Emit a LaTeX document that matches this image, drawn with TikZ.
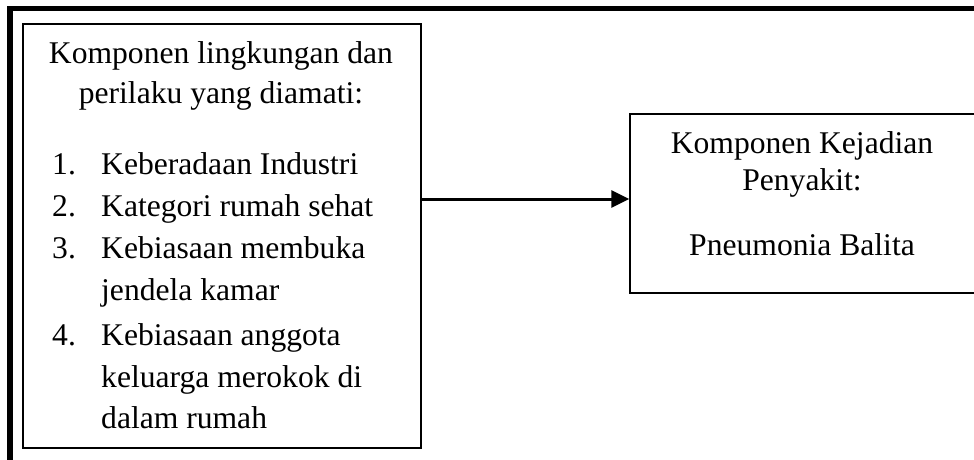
\documentclass[tikz,border=0pt]{standalone}
\usepackage{fontspec}
\setmainfont{Liberation Serif}
\usetikzlibrary{arrows.meta}
\begin{document}
\begin{tikzpicture}[x=1pt,y=-1pt,
  box/.style={draw=black,line width=1.3pt,inner sep=0pt},
  txt/.style={inner sep=0pt,anchor=base,font=\fontsize{31.6}{38}\selectfont},
  txtl/.style={txt,anchor=base west},
  arr/.style={line width=3pt,-{Triangle[length=18pt,width=17pt]}},
  frame/.style={line width=5.5pt,line cap=rect}]
\useasboundingbox (0,0) rectangle (974,459);
% outer frame (cropped)
\coordinate (fbl) at (10,470);
\coordinate (ftl) at (10,8.5);
\coordinate (ftr) at (990,8.5);
\draw[frame] (fbl) -- (ftl) -- (ftr);
% boxes
\node[box,minimum width=398pt,minimum height=424pt] (left) at (222,236) {};
\node[box,minimum width=345pt,minimum height=179pt] (right) at (802.5,203.5) {};
% left box text
\node[txt] (l1) at (221,63) {Komponen lingkungan dan};
\node[txt] (l2) at (221,103) {perilaku yang diamati:};
\node[txtl] (n1) at (52,174) {1.};
\node[txtl] (t1) at (101,174) {Keberadaan Industri};
\node[txtl] (n2) at (52,216) {2.};
\node[txtl] (t2) at (101,216) {Kategori rumah sehat};
\node[txtl] (n3) at (52,258) {3.};
\node[txtl] (t3) at (101,258) {Kebiasaan membuka};
\node[txtl] (t3b) at (101,300) {jendela kamar};
\node[txtl] (n4) at (52,345) {4.};
\node[txtl] (t4) at (101,345) {Kebiasaan anggota};
\node[txtl] (t4b) at (101,387) {keluarga merokok di};
\node[txtl] (t4c) at (101,428) {dalam rumah};
% right box text
\node[txt] (r1) at (802,153) {Komponen Kejadian};
\node[txt] (r2) at (802,190) {Penyakit:};
\node[txt] (r3) at (802,255) {Pneumonia Balita};
% arrow
\coordinate (ay) at (0,199);
\draw[arr] (left.east |- ay) -- (right.west |- ay);
\end{tikzpicture}
\end{document}
